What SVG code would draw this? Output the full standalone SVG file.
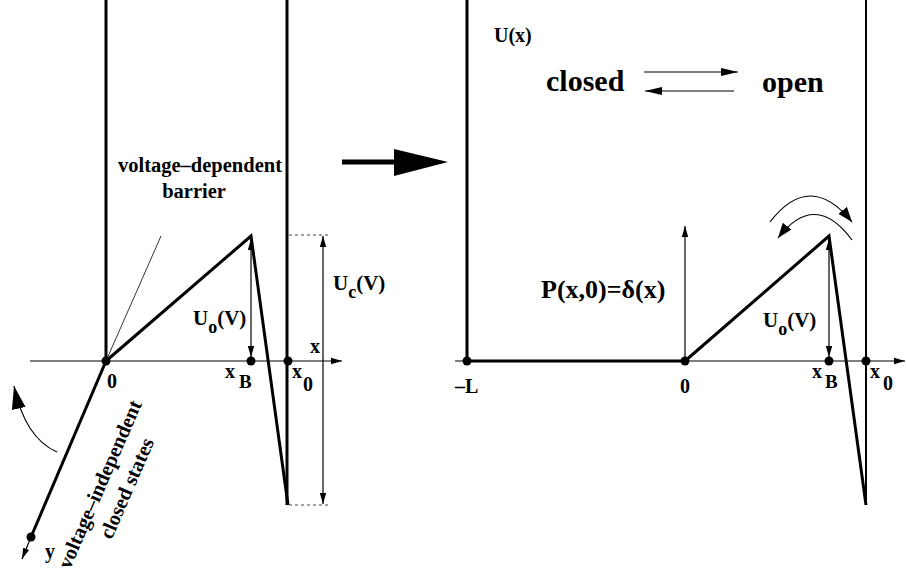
<svg xmlns="http://www.w3.org/2000/svg" width="906" height="573" viewBox="0 0 906 573">
<style>
text{font-family:"Liberation Serif","Times New Roman",serif;font-weight:bold;fill:#000}
.thick{stroke:#000;stroke-width:3;fill:none;stroke-linejoin:miter}
.mid{stroke:#000;stroke-width:2;fill:none}
.thin{stroke:#000;stroke-width:1.2;fill:none}
.hair{stroke:#000;stroke-width:0.8;fill:none}
.dash{stroke:#444;stroke-width:1;stroke-dasharray:3,3;fill:none}
.dot{fill:#000}
</style>
<defs>
<marker id="ah" markerUnits="userSpaceOnUse" markerWidth="12" markerHeight="8" refX="11" refY="4" orient="auto-start-reverse"><path d="M0,0.8 L11,4 L0,7.2 z" fill="#000"/></marker>
<marker id="ahl" markerUnits="userSpaceOnUse" markerWidth="18" markerHeight="10" refX="17" refY="5" orient="auto-start-reverse"><path d="M0,1 L17,5 L0,9 z" fill="#000"/></marker>
<marker id="ahc" markerUnits="userSpaceOnUse" markerWidth="16" markerHeight="12" refX="15" refY="6" orient="auto"><path d="M0,0.5 L15,6 L0,11.5 z" fill="#000"/></marker>
<marker id="ahb" markerUnits="userSpaceOnUse" markerWidth="24" markerHeight="16" refX="23" refY="8" orient="auto"><path d="M0,1 L23,8 L0,15 z" fill="#000"/></marker>
</defs>

<g id="connectors">
  <line class="thin" x1="30" y1="361" x2="342" y2="361" marker-end="url(#ah)"/>
  <line class="hair" x1="106" y1="361" x2="161" y2="236"/>
  <line class="thin" x1="251" y1="239" x2="251" y2="357" marker-start="url(#ah)" marker-end="url(#ah)"/>
  <line class="thin" x1="323" y1="236" x2="323" y2="504" marker-start="url(#ah)" marker-end="url(#ah)"/>
  <line class="dash" x1="289" y1="235" x2="331" y2="235"/>
  <line class="dash" x1="289" y1="505" x2="331" y2="505"/>
  <line class="thin" x1="31" y1="537" x2="22" y2="559" marker-end="url(#ah)"/>
  <path class="thin" d="M57,452 Q25,438 14,386" marker-end="url(#ahb)"/>
  <line x1="342" y1="162" x2="396" y2="162" stroke="#000" stroke-width="5"/>
  <polygon points="394,149 448,162 394,176" fill="#000"/>
  <line class="thin" x1="455" y1="361" x2="905" y2="361" marker-end="url(#ah)"/>
  <line class="thin" x1="685" y1="361" x2="685" y2="226" marker-end="url(#ah)"/>
  <line class="thin" x1="829" y1="239" x2="829" y2="357" marker-start="url(#ah)" marker-end="url(#ah)"/>
  <line class="thin" x1="644" y1="72" x2="738" y2="72" marker-end="url(#ahl)"/>
  <line class="thin" x1="734" y1="91" x2="645" y2="91" marker-end="url(#ahl)"/>
  <path class="thin" d="M770,222 Q810,170 852,222" marker-end="url(#ahc)"/>
  <path class="thin" d="M852,240 Q815,190 778,238" marker-end="url(#ahc)"/>
</g>

<g id="left-potential">
  <line class="thick" x1="106" y1="0" x2="106" y2="361"/>
  <line class="thick" x1="287" y1="0" x2="287" y2="505"/>
  <polyline class="thick" points="106,361 251,236 288,505"/>
  <line class="thick" x1="106" y1="361" x2="31" y2="537"/>
  <circle class="dot" cx="106" cy="361" r="4.5"/>
  <circle class="dot" cx="251" cy="361" r="4.5"/>
  <circle class="dot" cx="288" cy="361" r="4.5"/>
  <circle class="dot" cx="31" cy="537" r="4.5"/>
</g>

<g id="left-labels">
  <text x="200" y="172" font-size="20.5" text-anchor="middle">voltage–dependent</text>
  <text x="194" y="198" font-size="20.5" text-anchor="middle">barrier</text>
  <text x="193" y="325" font-size="21">U<tspan dy="8" font-size="18">o</tspan><tspan dy="-8">(V)</tspan></text>
  <text x="333" y="290" font-size="21">U<tspan dy="8" font-size="18">c</tspan><tspan dy="-8">(V)</tspan></text>
  <text x="310" y="353" font-size="20">x</text>
  <text x="107" y="388" font-size="20">0</text>
  <text x="225" y="378" font-size="20">x</text>
  <text x="239" y="388" font-size="19">B</text>
  <text x="292" y="378" font-size="20">x</text>
  <text x="303" y="391" font-size="20">0</text>
  <text x="45" y="558" font-size="20">y</text>
  <text font-size="20.5" text-anchor="middle" transform="translate(106,487) rotate(-66.5)">voltage–independent</text>
  <text font-size="20.5" text-anchor="middle" transform="translate(133,491) rotate(-66.5)">closed states</text>
</g>

<g id="right-potential">
  <line class="thick" x1="467" y1="0" x2="467" y2="361"/>
  <line class="mid" x1="866" y1="0" x2="866" y2="505"/>
  <line class="thick" x1="467" y1="361" x2="685" y2="361"/>
  <polyline class="thick" points="685,361 829,236 866,505"/>
  <circle class="dot" cx="467" cy="361" r="4.5"/>
  <circle class="dot" cx="685" cy="361" r="4.5"/>
  <circle class="dot" cx="829" cy="361" r="4.5"/>
  <circle class="dot" cx="866" cy="361" r="4.5"/>
</g>

<g id="right-labels">
  <text x="494" y="42" font-size="20">U(x)</text>
  <text x="546" y="91" font-size="30">closed</text>
  <text x="762" y="92" font-size="30">open</text>
  <text x="541" y="298" font-size="26">P(x,0)=δ(x)</text>
  <text x="763" y="327" font-size="21">U<tspan dy="8" font-size="18">o</tspan><tspan dy="-8">(V)</tspan></text>
  <text x="455" y="393" font-size="20">–L</text>
  <text x="680" y="393" font-size="20">0</text>
  <text x="812" y="378" font-size="20">x</text>
  <text x="825" y="388" font-size="19">B</text>
  <text x="870" y="378" font-size="20">x</text>
  <text x="883" y="390" font-size="20">0</text>
</g>
</svg>
